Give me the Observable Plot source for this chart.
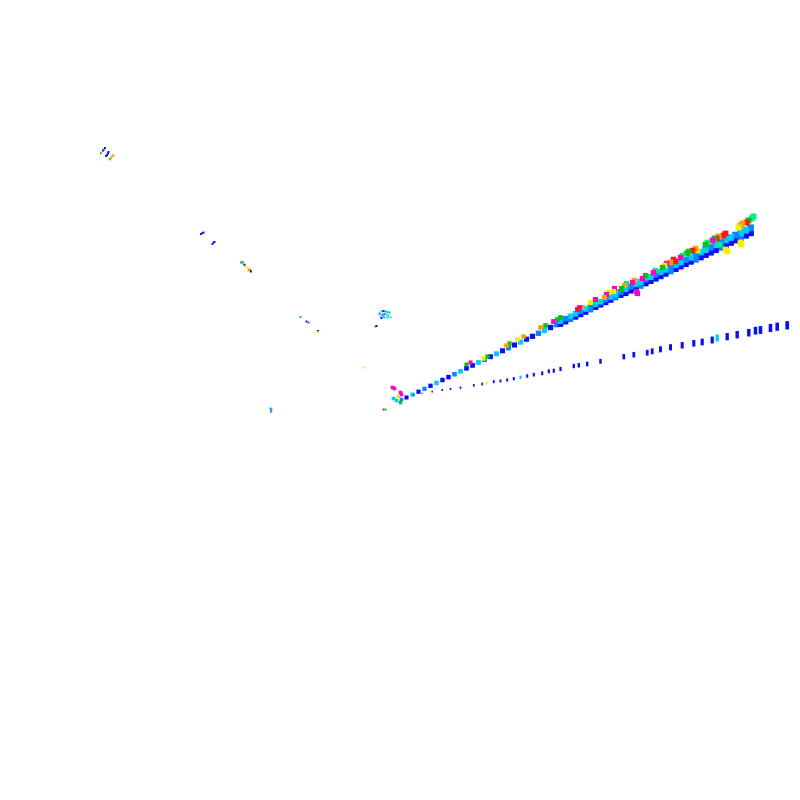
<!DOCTYPE html>
<html>
<head>
<meta charset="utf-8">
<script src="https://cdn.jsdelivr.net/npm/d3@7"></script>
<script src="https://cdn.jsdelivr.net/npm/@observablehq/plot@0.6"></script>
<style>
  body { margin: 0; background: #fff; }
</style>
</head>
<body>
<div id="vis"></div>
<script>
// color classes
const classes = ["B", "L", "C", "G", "S", "Y", "O", "R", "M", "T"]
const classColors = ["#0a10f5", "#0a84ff", "#00ccff", "#10c010", "#00f080", "#f0f000", "#ffa000", "#ff1414", "#ff00c8", "#20b090"]

// vanishing point of the two beams
const vertex = [402, 397]

// main beam, near part (one row)
const nearX = [406, 412, 418, 424, 430, 436, 442, 448, 454, 460, 466, 472, 478, 484, 490, 496, 502, 508, 514, 520, 526, 532, 538, 544, 550, 556]
const nearY = [397.0, 394.1, 391.2, 388.3, 385.3, 382.4, 379.5, 376.6, 373.7, 370.8, 367.8, 364.9, 362.0, 359.1, 356.2, 353.3, 350.3, 347.4, 344.5, 341.6, 338.7, 335.8, 332.8, 329.9, 327.0, 324.1]
const nearC = ["B", "C", "B", "L", "B", "C", "B", "B", "L", "C", "B", "B", "C", "L", "B", "C", "B", "L", "B", "C", "B", "B", "L", "C", "B", "L"]

// main beam, far part (upper and lower rows)
const farX = [560, 565, 570, 575, 580, 585, 590, 595, 600, 605, 610, 615, 620, 625, 630, 635, 640, 645, 650, 655, 660, 665, 670, 675, 680, 685, 690, 695, 700, 705, 710, 715, 720, 725, 730, 735, 740, 745, 750]
const farUpperY = [320.7, 318.2, 315.8, 313.4, 310.9, 308.5, 306.1, 303.6, 301.2, 298.8, 296.4, 293.9, 291.5, 288.6, 286.1, 283.7, 281.3, 278.8, 276.4, 274.0, 271.6, 269.1, 266.7, 264.3, 261.8, 259.4, 257.0, 254.0, 251.6, 249.2, 246.8, 244.3, 241.9, 239.5, 237.0, 234.6, 232.2, 229.7, 227.3]
const farUpperC = ["C", "L", "C", "C", "L", "C", "L", "C", "C", "L", "C", "C", "L", "C", "L", "C", "C", "L", "C", "L", "C", "C", "L", "C", "C", "L", "C", "L", "C", "C", "L", "C", "L", "C", "C", "L", "C", "C", "L"]
const farLowerY = [323.7, 321.2, 318.8, 316.4, 313.9, 311.5, 309.1, 306.6, 304.2, 301.8, 299.4, 296.9, 294.5, 292.6, 290.1, 287.7, 285.3, 282.8, 280.4, 278.0, 275.6, 273.1, 270.7, 268.3, 265.8, 263.4, 261.0, 259.0, 256.6, 254.2, 251.8, 249.3, 246.9, 244.5, 242.0, 239.6, 237.2, 234.7, 232.3]
const farLowerC = ["B", "B", "L", "B", "B", "B", "L", "B", "B", "B", "B", "L", "B", "B", "B", "B", "L", "B", "B", "B", "B", "B", "L", "B", "B", "B", "B", "L", "B", "B", "B", "B", "L", "B", "B", "B", "L", "B", "B"]

// coloured tufts along the main beam
const tuftX = [466, 470, 483, 487, 506, 509, 517, 523, 540, 545, 553, 557, 560, 577, 579, 582, 590, 595, 597,
  604, 606, 608, 613, 614, 621, 624, 626, 632, 634, 636, 637, 642, 645, 646, 653, 655, 662, 664, 666, 670, 673, 675,
  680, 682, 686, 688, 692, 695, 697, 705, 707, 712, 714, 716, 718, 719, 723, 725, 725, 727, 738, 740, 742, 740, 741, 746, 748, 751, 753,
  392, 394, 400, 401, 393, 396, 401, 400, 398]
const tuftY = [364, 362, 358, 356, 345, 343, 339, 336, 327, 325, 321, 319, 317, 309, 307, 307, 302, 299, 301,
  297, 294, 292, 291, 288, 288, 285, 283, 282, 280, 291, 293, 278, 275, 277, 272, 270, 267, 265, 263, 262, 259, 261,
  257, 255, 253, 251, 250, 248, 250, 244, 242, 240, 238, 238, 236, 244, 235, 233, 249, 251, 227, 225, 223, 242, 244, 222, 220, 218, 216,
  387, 388, 392, 394, 398, 400, 399, 402, 396]
const tuftC = ["G", "M", "Y", "G", "O", "G", "Y", "O", "O", "G", "M", "G", "G", "R", "M", "O", "Y", "M", "S",
  "O", "M", "Y", "Y", "M", "G", "O", "S", "M", "O", "M", "M", "M", "G", "S", "M", "S", "G", "Y", "M", "O", "R", "R",
  "M", "S", "G", "G", "R", "O", "Y", "G", "S", "M", "G", "R", "O", "S", "R", "R", "Y", "Y", "Y", "O", "O", "Y", "Y", "R", "G", "S", "S",
  "M", "M", "M", "M", "C", "C", "L", "G", "Y"]

// lower beam (bars)
const beamX = [413.3, 421.7, 431.7, 441.7, 450, 460, 473.3, 481.7, 486.7, 493.3, 500, 506.7, 513.3, 520, 526.7, 533.3, 541.7, 548.3, 553.3, 560, 573.3, 578.3, 586.7, 600, 623.3, 633.3, 646.7, 651.7, 660, 670, 681.7, 693.3, 701.7, 711.7, 716.7, 726.7, 736.7, 748.3, 755, 760, 770, 776.7, 786.7]
const beamY = [395, 393.3, 391.7, 390, 389, 387.7, 385.3, 384, 383, 381.7, 381, 380, 378.7, 377.3, 376, 374.7, 373.3, 371.3, 370.7, 369, 366, 365.3, 364, 361.3, 356.7, 354.7, 352.7, 351.3, 349.3, 347.3, 345.3, 343.3, 342, 340, 338, 336.7, 334.7, 332.7, 330.7, 330, 328, 326.7, 325.3]
const beamC = ["B", "G", "B", "B", "B", "B", "B", "B", "Y", "B", "B", "B", "B", "C", "B", "B", "B", "B", "B", "B", "B", "B", "B", "B", "B", "B", "B", "B", "B", "B", "B", "B", "B", "B", "C", "B", "B", "B", "B", "B", "B", "B", "B"]

// small separate clusters on the left
const clusterX = [100.5, 101.5, 102.5, 103.5, 104.5, 105.5, 106.5, 107.5, 108, 109, 110, 111, 112, 113,
  200.5, 202, 203, 212, 213, 214,
  240.5, 242, 243, 244, 245, 247, 248, 249, 250, 250.5, 248,
  300, 306, 308, 317.5, 318,
  379, 381, 383, 385, 387, 389, 380, 382, 384, 386, 388, 390, 381, 384, 387, 383,
  375, 376, 364, 270, 271, 270.5, 383, 385]
const clusterY = [152.5, 151.5, 150, 149, 147.5, 155.5, 154.5, 153, 151.5, 159, 158, 157, 155.5, 154.5,
  233.5, 232.5, 232, 243.5, 242, 241.5,
  262, 261.5, 263, 264.5, 266, 267, 268, 269, 270, 271, 270,
  316.5, 321, 322, 330.5, 331.5,
  313, 311, 310.5, 311, 311.5, 312, 315, 314, 313.5, 314, 315, 317, 317.5, 317, 317, 316,
  326, 325.5, 367, 408, 409, 411, 409, 409]
const clusterC = ["L", "Y", "B", "L", "B", "B", "B", "B", "B", "S", "G", "O", "O", "O",
  "B", "B", "B", "B", "B", "B",
  "G", "G", "C", "B", "Y", "Y", "Y", "O", "R", "B", "O",
  "T", "B", "M", "B", "Y",
  "L", "C", "B", "L", "C", "G", "C", "L", "L", "C", "C", "S", "B", "C", "C", "L",
  "G", "B", "Y", "L", "L", "L", "R", "G"]

const toRows = (xs, ys, cs) => xs.map((x, i) => ({x, y: ys[i], c: cs[i]}))
const near = toRows(nearX, nearY, nearC)
const farUpper = toRows(farX, farUpperY, farUpperC)
const farLower = toRows(farX, farLowerY, farLowerC)
const tufts = toRows(tuftX, tuftY, tuftC)
const beam = toRows(beamX, beamY, beamC)
const clusters = toRows(clusterX, clusterY, clusterC)

// perspective: things further from the vertex are drawn larger
const depth = d => Math.hypot(d.x - vertex[0], d.y - vertex[1]) / 390
const sq = d => (1.4 + depth(d) * 2.6) / 1.77

let chart = Plot.plot({
  width: 800,
  height: 800,
  margin: 0,
  x: {domain: [0, 800], axis: null},
  y: {domain: [800, 0], axis: null},
  color: {type: "ordinal", domain: classes, range: classColors},
  marks: [
    Plot.dot(near, {x: "x", y: "y", fill: "c", symbol: "square", r: sq}),
    Plot.dot(farLower, {x: "x", y: "y", fill: "c", symbol: "square", r: sq}),
    Plot.dot(farUpper, {x: "x", y: "y", fill: "c", symbol: "square", r: sq}),
    Plot.dot(tufts, {x: "x", y: "y", fill: "c", symbol: "square", r: d => sq(d) * 0.75}),
    Plot.ruleX(beam, {
      x: "x",
      y1: d => d.y - (1.3 + depth(d) * 7) / 2,
      y2: d => d.y + (1.3 + depth(d) * 7) / 2,
      stroke: "c",
      strokeWidth: d => 1.3 + depth(d) * 2.4
    }),
    Plot.dot(clusters, {x: "x", y: "y", fill: "c", symbol: "square", r: 1.1})
  ]
})

d3.select('#vis').append(() => chart)
</script>
</body>
</html>
